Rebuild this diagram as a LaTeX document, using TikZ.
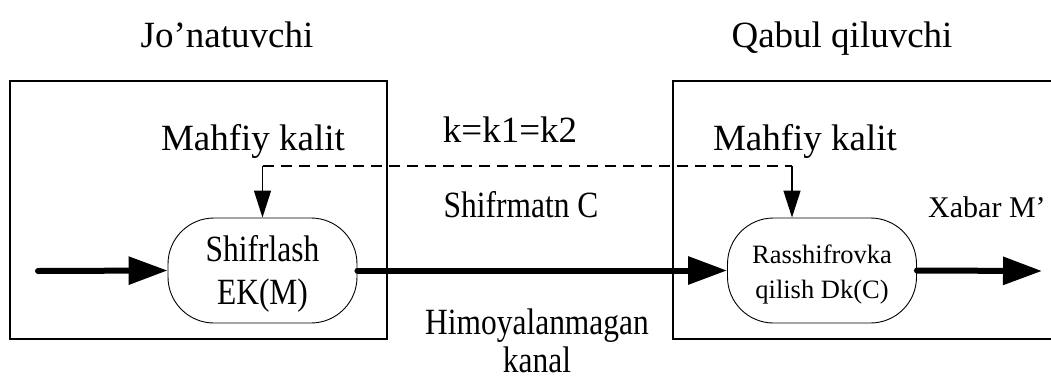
\documentclass[tikz,border=0pt]{standalone}
\usepackage{fontspec}
\setmainfont{Liberation Serif}
\newfontfamily\narrowfont[FakeStretch=0.85]{Liberation Serif}
\usetikzlibrary{arrows.meta}

\begin{document}
\begin{tikzpicture}[
            x = 1pt, y = -1pt,
            every node/.style={inner sep=0pt, anchor=base},
            frame/.style={line width = 1.6pt},
            block/.style={draw, line width = .9pt, rounded corners = 46pt, minimum width = 189pt, minimum height = 105pt, align=center, anchor=center},
            big/.style={font=\fontsize{37}{40}\selectfont},
            mid/.style={font=\narrowfont\fontsize{37}{38}\selectfont},
            flow/.style={line width = 6pt, line cap=round, -{Triangle[length=39pt, width=27pt]}},
            keyline/.style={line width = 1.3pt, dash pattern=on 11pt off 7pt},
            keyarrow/.style={line width = 1.3pt, -{Triangle[length=27pt, width=17pt]}},
            ]

        \useasboundingbox (0,0) rectangle (1051,378);

        % sender and receiver
        \draw[frame] (10,81) rectangle (387,339);
        \draw[frame] (673,81) rectangle (1060,339);
        \node[big] (sender) at (227,47) {Jo’natuvchi};
        \node[big] (receiver) at (842,47) {Qabul qiluvchi};

        % keys
        \node[big] (keyA) at (253,150) {Mahfiy kalit};
        \node[big] (keyB) at (805,150) {Mahfiy kalit};
        \node[big] (keyeq) at (510,142) {k=k1=k2};

        % blocks
        \node[block, font=\narrowfont\fontsize{37}{43}\selectfont] (enc) at (262.5,270.5)
            {\rule{0pt}{34pt}Shifrlash\\\rule[-9pt]{0pt}{9pt}EK(M)};
        \node[block, font=\fontsize{26.5}{35}\selectfont] (dec) at (822,270.5)
            {\rule{0pt}{28pt}Rasshifrovka\\\rule[-6.5pt]{0pt}{6.5pt}qilish Dk(C)};

        \node[mid] (cipher) at (521,217) {Shifrmatn C};
        \node[mid, align=center] (chan) at (537,372) {Himoyalanmagan\\kanal};
        \node[anchor=base west, font=\fontsize{30}{36}\selectfont] (msg) at (928,217) {Xabar M’};

        \coordinate (in) at (38,271);
        \coordinate (out) at (1042,271);
        \coordinate (ka) at (262.5,166);
        \coordinate (kb) at (792,166);

        \draw[flow] (in) -- (enc.west);
        \draw[flow] (enc.east) -- (dec.west);
        \draw[flow] (dec.east) -- (out);

        \draw[keyline] (ka) -- (kb);
        \draw[keyarrow] (ka) -- (enc.north);
        \draw[keyarrow] (kb) -- (dec.north -| kb);

    \end{tikzpicture}
\end{document}
